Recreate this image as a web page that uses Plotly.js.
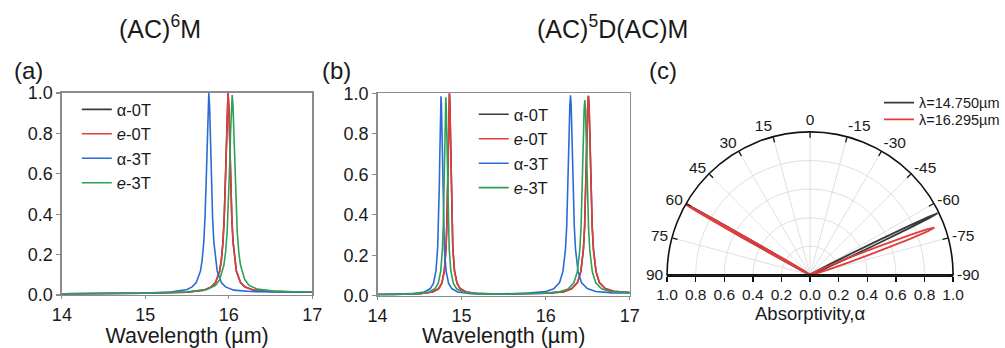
<!DOCTYPE html>
<html>
<head>
<meta charset="utf-8">
<script src="https://cdn.plot.ly/plotly-3.0.1.min.js"></script>
<style>html,body{margin:0;padding:0;background:#fff;}#chart{width:1005px;height:348px;}</style>
</head>
<body>
<div id="chart"></div>
<script>
// ---------- Panel (a): (AC)^6M ----------
const a_blue_x = [14, 14.5, 15, 15.3, 15.5, 15.56, 15.61, 15.66, 15.68, 15.70, 15.715, 15.73, 15.74, 15.75, 15.76, 15.77, 15.78, 15.79, 15.805, 15.82, 15.84, 15.86, 15.91, 15.96, 16.06, 16.26, 16.6, 17];
const a_blue_y = [0.006, 0.008, 0.010, 0.015, 0.027, 0.040, 0.062, 0.119, 0.171, 0.264, 0.387, 0.586, 0.764, 0.930, 1.0, 0.930, 0.764, 0.586, 0.387, 0.264, 0.171, 0.119, 0.062, 0.040, 0.024, 0.017, 0.015, 0.014];
const a_red_x = [14, 14.5, 15, 15.5, 15.7, 15.79, 15.84, 15.89, 15.91, 15.93, 15.945, 15.96, 15.97, 15.98, 15.99, 16.00, 16.01, 16.02, 16.035, 16.05, 16.07, 16.09, 16.14, 16.19, 16.29, 16.49, 16.8, 17];
const a_red_y = [0.006, 0.007, 0.009, 0.014, 0.024, 0.040, 0.062, 0.119, 0.171, 0.264, 0.387, 0.586, 0.764, 0.930, 1.0, 0.930, 0.764, 0.586, 0.387, 0.264, 0.171, 0.119, 0.062, 0.041, 0.025, 0.018, 0.015, 0.014];
const a_green_x = [14, 14.5, 15, 15.5, 15.74, 15.84, 15.89, 15.94, 15.96, 15.98, 15.995, 16.01, 16.02, 16.03, 16.04, 16.05, 16.06, 16.07, 16.085, 16.10, 16.12, 16.14, 16.19, 16.24, 16.34, 16.54, 16.8, 17];
const a_green_y = [0.006, 0.007, 0.009, 0.016, 0.027, 0.048, 0.076, 0.147, 0.208, 0.315, 0.447, 0.644, 0.80, 0.93, 0.99, 0.93, 0.80, 0.644, 0.447, 0.315, 0.208, 0.147, 0.077, 0.049, 0.029, 0.019, 0.016, 0.015];
// alpha-0T coincides with e-0T (hidden beneath it)
const a_black_x = [14, 14.5, 15, 15.5, 15.7, 15.79, 15.84, 15.89, 15.91, 15.93, 15.945, 15.96, 15.97, 15.98, 15.99, 16.00, 16.01, 16.02, 16.035, 16.05, 16.07, 16.09, 16.14, 16.19, 16.29, 16.49, 16.8, 17];
const a_black_y = [0.006, 0.007, 0.009, 0.014, 0.024, 0.040, 0.062, 0.119, 0.171, 0.264, 0.387, 0.586, 0.764, 0.930, 1.0, 0.930, 0.764, 0.586, 0.387, 0.264, 0.171, 0.119, 0.062, 0.041, 0.025, 0.018, 0.015, 0.014];

// ---------- Panel (b): (AC)^5D(AC)M ----------
const b_blue_x = [14, 14.2, 14.405, 14.555, 14.625, 14.665, 14.695, 14.715, 14.725, 14.735, 14.74, 14.745, 14.75, 14.755, 14.76, 14.765, 14.77, 14.775, 14.785, 14.795, 14.815, 14.845, 14.885, 14.955, 15.105, 15.4, 15.795, 15.995, 16.095, 16.165, 16.205, 16.235, 16.25, 16.265, 16.273, 16.28, 16.287, 16.295, 16.303, 16.31, 16.317, 16.325, 16.34, 16.355, 16.385, 16.425, 16.495, 16.595, 16.795, 17];
const b_blue_y = [0.006, 0.007, 0.010, 0.018, 0.034, 0.061, 0.122, 0.235, 0.351, 0.546, 0.679, 0.823, 0.943, 0.985, 0.943, 0.823, 0.679, 0.546, 0.351, 0.235, 0.122, 0.061, 0.034, 0.018, 0.010, 0.008, 0.013, 0.020, 0.034, 0.065, 0.120, 0.228, 0.342, 0.536, 0.681, 0.820, 0.940, 0.99, 0.940, 0.820, 0.681, 0.536, 0.342, 0.228, 0.120, 0.065, 0.035, 0.021, 0.014, 0.013];
const b_green_x = [14, 14.2, 14.462, 14.612, 14.682, 14.722, 14.752, 14.772, 14.782, 14.792, 14.797, 14.802, 14.807, 14.812, 14.817, 14.822, 14.827, 14.832, 14.842, 14.852, 14.872, 14.902, 14.942, 15.012, 15.162, 15.5, 15.965, 16.165, 16.265, 16.335, 16.375, 16.405, 16.42, 16.435, 16.443, 16.45, 16.457, 16.465, 16.473, 16.48, 16.487, 16.495, 16.51, 16.525, 16.555, 16.595, 16.665, 16.765, 17];
const b_green_y = [0.006, 0.006, 0.010, 0.018, 0.034, 0.061, 0.122, 0.234, 0.349, 0.543, 0.675, 0.818, 0.938, 0.98, 0.938, 0.818, 0.675, 0.543, 0.349, 0.234, 0.122, 0.061, 0.034, 0.018, 0.010, 0.008, 0.012, 0.019, 0.033, 0.064, 0.117, 0.222, 0.334, 0.524, 0.666, 0.802, 0.919, 0.967, 0.919, 0.802, 0.666, 0.524, 0.334, 0.222, 0.117, 0.064, 0.034, 0.021, 0.014];
const b_red_x = [14, 14.2, 14.505, 14.655, 14.725, 14.765, 14.795, 14.815, 14.825, 14.835, 14.84, 14.845, 14.85, 14.855, 14.86, 14.865, 14.87, 14.875, 14.885, 14.895, 14.915, 14.945, 14.985, 15.055, 15.205, 15.5, 16.008, 16.208, 16.308, 16.378, 16.418, 16.448, 16.463, 16.478, 16.486, 16.493, 16.5, 16.508, 16.516, 16.523, 16.53, 16.538, 16.553, 16.568, 16.598, 16.638, 16.708, 16.808, 17];
const b_red_y = [0.006, 0.006, 0.010, 0.018, 0.034, 0.062, 0.124, 0.238, 0.356, 0.554, 0.689, 0.835, 0.957, 1.0, 0.957, 0.835, 0.689, 0.554, 0.356, 0.238, 0.124, 0.062, 0.034, 0.018, 0.010, 0.008, 0.012, 0.019, 0.034, 0.065, 0.120, 0.227, 0.341, 0.535, 0.680, 0.819, 0.938, 0.988, 0.938, 0.819, 0.680, 0.535, 0.341, 0.227, 0.120, 0.065, 0.035, 0.022, 0.016];
const b_black_x = b_red_x.slice();
const b_black_y = b_red_y.slice();

// ---------- Panel (c): angular absorptivity ----------
const pol_black_theta = [-90, -76.2, -71.2, -68.2, -66.8, -65.9, -65.3, -64.8, -64.5, -64.2, -63.9, -63.6, -63.1, -62.5, -61.6, -60.2, -57.2, -52.2, -30, 0, 30, 52.3, 56.3, 57.8, 58.8, 59.3, 59.6, 59.9, 60.1, 60.3, 60.5, 60.7, 61.0, 61.3, 61.8, 62.8, 64.3, 68.3, 80, 90];
const pol_black_r = [0.005, 0.008, 0.024, 0.070, 0.150, 0.292, 0.495, 0.763, 0.922, 0.99, 0.922, 0.763, 0.495, 0.292, 0.150, 0.070, 0.024, 0.008, 0.004, 0.003, 0.004, 0.008, 0.030, 0.073, 0.179, 0.329, 0.5, 0.754, 0.924, 1.0, 0.924, 0.754, 0.5, 0.329, 0.179, 0.073, 0.030, 0.008, 0.005, 0.004];
const pol_red_theta = [-90, -81.2, -76.2, -73.7, -72.2, -71.2, -70.2, -69.7, -69.2, -68.7, -68.2, -67.2, -66.2, -64.7, -62.2, -57.2, -49.2, -30, 0, 30, 52.5, 56.5, 58.0, 59.0, 59.5, 59.8, 60.1, 60.3, 60.5, 60.7, 60.9, 61.2, 61.5, 62.0, 63.0, 64.5, 68.5, 80, 90];
const pol_red_r = [0.008, 0.025, 0.070, 0.153, 0.286, 0.465, 0.744, 0.875, 0.93, 0.875, 0.744, 0.465, 0.286, 0.153, 0.070, 0.025, 0.009, 0.004, 0.003, 0.004, 0.010, 0.038, 0.093, 0.221, 0.39, 0.566, 0.8, 0.941, 1.0, 0.941, 0.8, 0.566, 0.39, 0.221, 0.093, 0.038, 0.010, 0.005, 0.004];

// ---------- Tick labels & names ----------
const xTickVals = [14, 15, 16, 17];
const yTickVals = [0, 0.2, 0.4, 0.6, 0.8, 1.0];
const angTickVals = [90, 75, 60, 45, 30, 15, 0, -15, -30, -45, -60, -75, -90];
const angTickText = ['90', '75', '60', '45', '30', '15', '0', '-15', '-30', '-45', '-60', '-75', '-90'];
const radTickVals = [-1, -0.8, -0.6, -0.4, -0.2, 0, 0.2, 0.4, 0.6, 0.8, 1];
const radTickText = ['1.0', '0.8', '0.6', '0.4', '0.2', '0.0', '0.2', '0.4', '0.6', '0.8', '1.0'];
const seriesNames = ['\u03b1-0T', '<i>e</i>-0T', '\u03b1-3T', '<i>e</i>-3T'];
const polNames = ['\u03bb=14.750\u00b5m', '\u03bb=16.295\u00b5m'];

const FONT = 'Liberation Sans, Arial, Helvetica, sans-serif';
const C_BLACK = '#3a3a3a', C_RED = '#e23c3c', C_BLUE = '#2a6cd4', C_GREEN = '#2e9f57';

function line(x, y, name, color, xa, ya, leg) {
  return {x: x, y: y, name: name, type: 'scatter', mode: 'lines', xaxis: xa, yaxis: ya,
          legend: leg, line: {color: color, width: 1.6}, hoverinfo: 'skip'};
}

const data = [
  line(a_black_x, a_black_y, seriesNames[0], C_BLACK, 'x', 'y', 'legend'),
  line(a_red_x, a_red_y, seriesNames[1], C_RED, 'x', 'y', 'legend'),
  line(a_blue_x, a_blue_y, seriesNames[2], C_BLUE, 'x', 'y', 'legend'),
  line(a_green_x, a_green_y, seriesNames[3], C_GREEN, 'x', 'y', 'legend'),
  line(b_black_x, b_black_y, seriesNames[0], C_BLACK, 'x2', 'y2', 'legend2'),
  line(b_red_x, b_red_y, seriesNames[1], C_RED, 'x2', 'y2', 'legend2'),
  line(b_blue_x, b_blue_y, seriesNames[2], C_BLUE, 'x2', 'y2', 'legend2'),
  line(b_green_x, b_green_y, seriesNames[3], C_GREEN, 'x2', 'y2', 'legend2'),
  {type: 'scatterpolar', subplot: 'polar', theta: pol_black_theta, r: pol_black_r, name: polNames[0],
   mode: 'lines', line: {color: C_BLACK, width: 1.8}, legend: 'legend3', hoverinfo: 'skip'},
  {type: 'scatterpolar', subplot: 'polar', theta: pol_red_theta, r: pol_red_r, name: polNames[1],
   mode: 'lines', line: {color: C_RED, width: 1.8}, legend: 'legend4', hoverinfo: 'skip'},
  // invisible helper so the radial-value axis under panel (c) is drawn
  {type: 'scatter', x: radTickVals, y: radTickVals.map(() => 0), xaxis: 'x3', yaxis: 'y3', mode: 'markers',
   marker: {opacity: 0}, showlegend: false, hoverinfo: 'skip'}
];

function cartX(domain, anchor) {
  return {domain: domain, anchor: anchor, range: [14, 17], tickmode: 'array', tickvals: xTickVals,
          ticks: 'outside', ticklen: 3, tickwidth: 1.2, tickcolor: '#8c8c8c',
          showline: true, mirror: true, linecolor: '#8c8c8c', linewidth: 1.5,
          showgrid: false, zeroline: false, tickfont: {size: 18, color: '#1a1a1a'},
          title: {text: 'Wavelength (\u00b5m)', font: {size: 21.5, color: '#1a1a1a'}, standoff: 7}};
}
function cartY(domain, anchor) {
  return {domain: domain, anchor: anchor, range: [0, 1], tickmode: 'array', tickvals: yTickVals,
          tickformat: '.1f', ticks: 'outside', ticklen: 4, tickwidth: 1.2, tickcolor: '#8c8c8c',
          showline: true, mirror: true, linecolor: '#8c8c8c', linewidth: 1.5,
          showgrid: false, zeroline: false, tickfont: {size: 18, color: '#1a1a1a'}};
}
function legendAt(x, y, size) {
  return {x: x, y: y, xanchor: 'left', yanchor: 'top', bgcolor: 'rgba(0,0,0,0)', borderwidth: 0,
          font: {size: size, color: '#1a1a1a', family: FONT}};
}

const layout = {
  width: 1005, height: 348, margin: {l: 0, r: 0, t: 0, b: 0},
  paper_bgcolor: '#ffffff', plot_bgcolor: '#ffffff',
  font: {family: FONT, color: '#1a1a1a'},
  showlegend: true,
  xaxis: cartX([0.0617, 0.3114], 'y'),
  yaxis: cartY([0.1523, 0.7328], 'x'),
  xaxis2: cartX([0.3764, 0.6279], 'y2'),
  yaxis2: cartY([0.1503, 0.7319], 'x2'),
  xaxis3: {domain: [0.66507, 0.95025], anchor: 'y3', range: [-1, 1], tickmode: 'array',
           tickvals: radTickVals, ticktext: radTickText, ticks: 'outside', ticklen: 5, tickwidth: 1.3,
           tickcolor: '#111', showline: true, linecolor: '#111', linewidth: 1.6, showgrid: false,
           zeroline: false, tickfont: {size: 15.5, color: '#1a1a1a'},
           title: {text: 'Absorptivity,\u03b1', font: {size: 18.5, color: '#1a1a1a'}, standoff: 5}},
  yaxis3: {domain: [0.20977, 0.62155], anchor: 'x3', range: [0, 1], visible: false},
  polar: {
    domain: {x: [0.66507, 0.95025], y: [0.20977, 0.62155]},
    sector: [0, 180], bgcolor: 'rgba(0,0,0,0)',
    angularaxis: {rotation: 90, direction: 'counterclockwise', tickmode: 'array',
                  tickvals: angTickVals, ticktext: angTickText, ticks: 'inside', ticklen: 5,
                  tickwidth: 1.3, tickcolor: '#111', showline: true, linecolor: '#111', linewidth: 1.6,
                  gridcolor: '#e0e0e0', gridwidth: 1, tickfont: {size: 15.5, color: '#1a1a1a'}},
    radialaxis: {range: [0, 1], tickmode: 'array', tickvals: [0.2, 0.4, 0.6, 0.8],
                 showticklabels: false, ticks: '', showline: false, gridcolor: '#e0e0e0', gridwidth: 1}
  },
  legend: legendAt(0.0766, 0.7353, 16.5),
  legend2: legendAt(0.4723, 0.7210, 16.5),
  legend3: legendAt(0.8766, 0.7506, 14.5),
  legend4: legendAt(0.8766, 0.7029, 14.5),
  annotations: [
    {text: '(AC)<sup>6</sup>M', x: 0.1592, y: 0.922, xref: 'paper', yref: 'paper', showarrow: false,
     xanchor: 'center', yanchor: 'middle', font: {size: 25, color: '#1a1a1a'}},
    {text: '(AC)<sup>5</sup>D(AC)M', x: 0.611, y: 0.922, xref: 'paper', yref: 'paper', showarrow: false,
     xanchor: 'center', yanchor: 'middle', font: {size: 25, color: '#1a1a1a'}},
    {text: '(a)', x: 0.0289, y: 0.7960, xref: 'paper', yref: 'paper', showarrow: false,
     xanchor: 'center', yanchor: 'middle', font: {size: 24, color: '#1a1a1a'}},
    {text: '(b)', x: 0.3358, y: 0.7960, xref: 'paper', yref: 'paper', showarrow: false,
     xanchor: 'center', yanchor: 'middle', font: {size: 24, color: '#1a1a1a'}},
    {text: '(c)', x: 0.6607, y: 0.7960, xref: 'paper', yref: 'paper', showarrow: false,
     xanchor: 'center', yanchor: 'middle', font: {size: 24, color: '#1a1a1a'}}
  ]
};

Plotly.newPlot('chart', data, layout, {staticPlot: true, displayModeBar: false});
</script>
</body>
</html>
